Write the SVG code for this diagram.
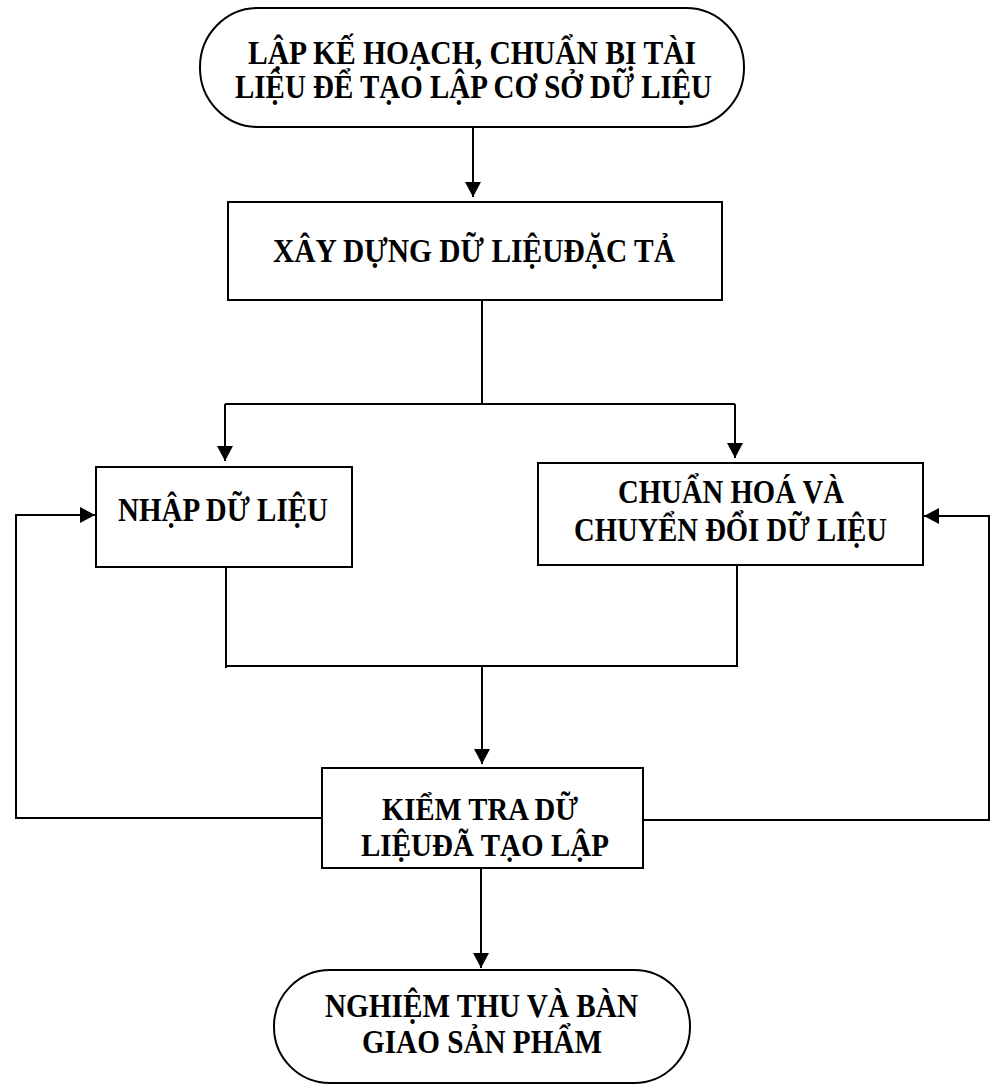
<svg xmlns="http://www.w3.org/2000/svg" width="991" height="1086" viewBox="0 0 991 1086">
<style>
.box{fill:#fff;stroke:#000;stroke-width:2}
.t{font-family:"Liberation Serif","Times New Roman",serif;font-weight:bold;font-size:34px;text-anchor:middle;fill:#000}
.s{font-size:31px}
.c{fill:none;stroke:#000;stroke-width:2}
</style>
<defs>
<marker id="ah" viewBox="0 0 15 16" refX="15" refY="8" markerWidth="15" markerHeight="16" markerUnits="userSpaceOnUse" orient="auto">
<path d="M0,0 L15,8 L0,16 Z" fill="#000"/>
</marker>
</defs>
<rect width="991" height="1086" fill="#fff"/>
<g id="connectors">
<line class="c" x1="473" y1="127" x2="473" y2="197" marker-end="url(#ah)"/>
<polyline class="c" points="482,300 482,404"/>
<polyline class="c" points="225,404 735,404"/>
<line class="c" x1="225" y1="404" x2="225" y2="461" marker-end="url(#ah)"/>
<line class="c" x1="735" y1="404" x2="735" y2="458" marker-end="url(#ah)"/>
<polyline class="c" points="226,567 226,668"/>
<polyline class="c" points="737,565 737,666 226,666"/>
<line class="c" x1="482" y1="666" x2="482" y2="764" marker-end="url(#ah)"/>
<polyline class="c" points="322,818 16,818 16,515 95,515" marker-end="url(#ah)"/>
<polyline class="c" points="643,820 989,820 989,516 924,516" marker-end="url(#ah)"/>
<line class="c" x1="481" y1="869" x2="481" y2="968" marker-end="url(#ah)"/>
</g>
<g id="n1">
<rect class="box" x="200" y="8" width="544" height="119" rx="58" ry="59"/>
<text class="t" x="472" y="64" textLength="448" lengthAdjust="spacingAndGlyphs">LẬP KẾ HOẠCH, CHUẨN BỊ TÀI</text>
<text class="t" x="473.5" y="98" textLength="477" lengthAdjust="spacingAndGlyphs">LIỆU ĐỂ TẠO LẬP CƠ SỞ DỮ LIỆU</text>
</g>
<g id="n2">
<rect class="box" x="228" y="202" width="494" height="98"/>
<text class="t" x="474" y="262" textLength="402" lengthAdjust="spacingAndGlyphs">XÂY DỰNG DỮ LIỆUĐẶC TẢ</text>
</g>
<g id="n3">
<rect class="box" x="96" y="467" width="256" height="100"/>
<text class="t" x="223" y="521" textLength="210" lengthAdjust="spacingAndGlyphs">NHẬP DỮ LIỆU</text>
</g>
<g id="n4">
<rect class="box" x="538" y="463" width="385" height="102"/>
<text class="t" x="731" y="503" textLength="226" lengthAdjust="spacingAndGlyphs">CHUẨN HOÁ VÀ</text>
<text class="t" x="730.5" y="541" textLength="313" lengthAdjust="spacingAndGlyphs">CHUYỂN ĐỔI DỮ LIỆU</text>
</g>
<g id="n5">
<rect class="box" x="322" y="768" width="321" height="100"/>
<text class="t s" x="480" y="820" textLength="196" lengthAdjust="spacingAndGlyphs">KIỂM TRA DỮ</text>
<text class="t s" x="485" y="856" textLength="248" lengthAdjust="spacingAndGlyphs">LIỆUĐÃ TẠO LẬP</text>
</g>
<g id="n6">
<rect class="box" x="274" y="970" width="416" height="113" rx="56" ry="56"/>
<text class="t" x="481.5" y="1017" textLength="313" lengthAdjust="spacingAndGlyphs">NGHIỆM THU VÀ BÀN</text>
<text class="t" x="482" y="1053" textLength="240" lengthAdjust="spacingAndGlyphs">GIAO SẢN PHẨM</text>
</g>
</svg>
